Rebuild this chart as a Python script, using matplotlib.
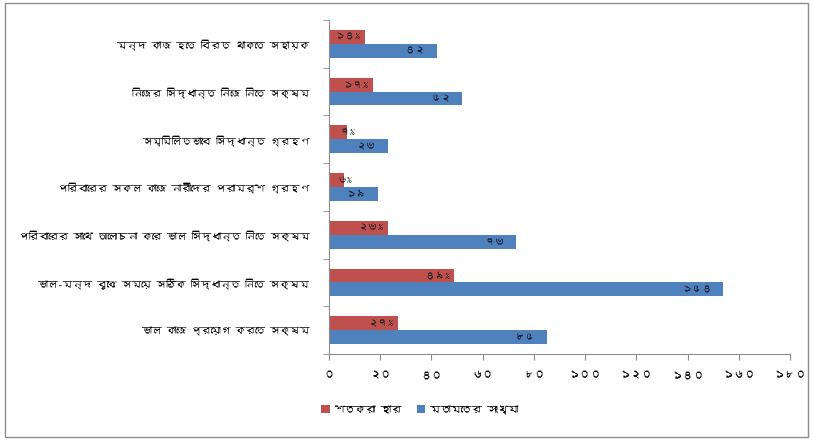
import matplotlib
matplotlib.use("Agg")
import matplotlib.pyplot as plt
from matplotlib import font_manager
from matplotlib.ticker import FixedLocator, FuncFormatter
from matplotlib.patches import Rectangle, Patch
import numpy as np

categories = [
    "মন্দ কাজ হতে বিরত থাকতে সহায়ক",
    "নিজের সিদ্ধান্ত নিজে নিতে সক্ষম",
    "সম্মিলিতভাবে সিদ্ধান্ত গ্রহণ",
    "পরিবারের সকল কাজে নারীদের পরামর্শ গ্রহণ",
    "পরিবারের সাথে আলোচনা করে ভাল সিদ্ধান্ত নিতে সক্ষম",
    "ভাল-মন্দ বুঝে সময়ে সঠিক সিদ্ধান্ত নিতে সক্ষম",
    "ভাল কাজে প্রয়োগ করতে সক্ষম",
]
percent = [14, 17, 7, 6, 23, 49, 27]
counts = [42, 52, 23, 19, 73, 154, 85]
series_names = ["শতকরা হার", "মতামতের সংখ্যা"]
x_ticks = [0, 20, 40, 60, 80, 100, 120, 140, 160, 180]

RED = "#C0504D"
BLUE = "#4F81BD"

# pick a font that actually carries Bengali glyphs, if one is installed
def bengali_fonts():
    found = []
    try:
        from matplotlib.ft2font import FT2Font
    except Exception:
        return found
    for path in sorted(font_manager.findSystemFonts()):
        try:
            f = FT2Font(path)
            cmap = f.get_charmap()
            if 0x0995 in cmap and 0x09A8 in cmap:
                name = font_manager.FontProperties(fname=path).get_name()
                if name not in found:
                    found.append(name)
        except Exception:
            continue
    return found

fams = bengali_fonts()
plt.rcParams["font.family"] = fams[:1] + ["DejaVu Sans"]

BN_DIGITS = str.maketrans("0123456789", "০১২৩৪৫৬৭৮৯")


def bn(n):
    return str(n).translate(BN_DIGITS)


fig = plt.figure(figsize=(8.13, 4.40), dpi=100)
ax = fig.add_axes([329 / 813, 1 - 354 / 440, (790 - 329) / 813, (354 - 20) / 440])

y = np.arange(len(categories))
h = 0.29
ax.barh(y - h / 2, percent, height=h, color=RED, label=series_names[0])
ax.barh(y + h / 2, counts, height=h, color=BLUE, label=series_names[1])

ax.set_xlim(0, 180)
ax.set_ylim(len(categories) - 0.5, -0.5)

# value labels at the inner end of each bar
for yi, v in zip(y, percent):
    txt = bn(v) + "%"
    if v >= 12:
        ax.annotate(txt, (v, yi - h / 2), xytext=(-3, 0), textcoords="offset points",
                    ha="right", va="center", fontsize=7.5, color="#222222")
    else:
        ax.annotate(txt, (v, yi - h / 2), xytext=(0, 0), textcoords="offset points",
                    ha="center", va="center", fontsize=7.5, color="#222222")
for yi, v in zip(y, counts):
    ax.annotate(bn(v), (v, yi + h / 2), xytext=(-8, 0), textcoords="offset points",
                ha="right", va="center", fontsize=7.5, color="#1a1a2e")

ax.xaxis.set_major_locator(FixedLocator(x_ticks))
ax.xaxis.set_major_formatter(FuncFormatter(lambda v, p: bn(int(round(v)))))
ax.set_yticks(y)
ax.set_yticklabels(categories, fontsize=7.1)
ax.yaxis.set_minor_locator(FixedLocator(np.arange(-0.5, len(categories), 1.0)))
ax.tick_params(axis="y", which="major", length=0, pad=14)
ax.tick_params(axis="y", which="minor", length=4, color="#8c8c8c", direction="out")
ax.tick_params(axis="x", length=4, color="#8c8c8c", labelsize=8, pad=8)

for side in ("top", "right"):
    ax.spines[side].set_visible(False)
for side in ("left", "bottom"):
    ax.spines[side].set_color("#8c8c8c")
    ax.spines[side].set_linewidth(0.8)

handles = [Patch(facecolor=RED, edgecolor="none"), Patch(facecolor=BLUE, edgecolor="none")]
fig.legend(handles, series_names, loc="center left", bbox_to_anchor=(312 / 813, 1 - 410 / 440),
           ncol=2, frameon=False, fontsize=7.5, handlelength=0.8, handleheight=0.8,
           handletextpad=0.4, columnspacing=1.5)

# outer chart border
fig.patches.append(Rectangle((5 / 813, 3 / 440), 803 / 813, 434 / 440, transform=fig.transFigure,
                             fill=False, edgecolor="#8c8c8c", linewidth=1.0))

fig.savefig("out.png", dpi=100)
